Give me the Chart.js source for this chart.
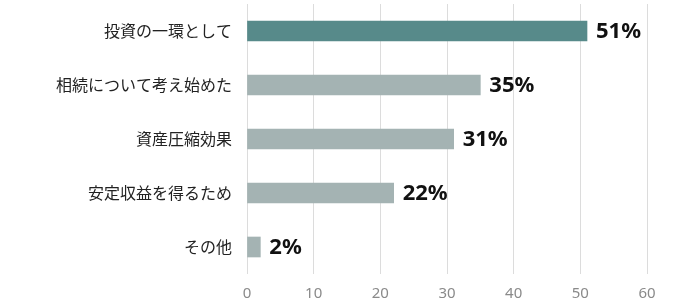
<!DOCTYPE html>
<html lang="ja">
<head>
<meta charset="utf-8">
<script src="https://cdn.jsdelivr.net/npm/chart.js@4/dist/chart.umd.min.js"></script>
<style>
  html, body { margin: 0; padding: 0; background: #fff; }
  #wrap { width: 700px; height: 300px; }
</style>
</head>
<body>
<div id="wrap"><canvas id="chart"></canvas></div>
<script>
const categories = ['投資の一環として', '相続について考え始めた', '資産圧縮効果', '安定収益を得るため', 'その他'];
const percents = [51, 35, 31, 22, 2];
const tickValues = [0, 10, 20, 30, 40, 50, 60];

const barColors = percents.map((v, i) => (i === 0 ? '#578a8a' : '#a4b3b3'));

// draws the "51%" style labels just right of each bar
const valueLabels = {
  id: 'valueLabels',
  afterDatasetsDraw(chart) {
    const ctx = chart.ctx;
    const meta = chart.getDatasetMeta(0);
    ctx.save();
    ctx.font = 'bold 22px "Noto Sans", "Noto Sans CJK JP", sans-serif';
    ctx.fillStyle = '#111';
    ctx.textAlign = 'left';
    ctx.textBaseline = 'middle';
    meta.data.forEach((bar, i) => {
      ctx.fillText(percents[i] + '%', bar.x + 9, bar.y + 1);
    });
    ctx.restore();
  }
};

new Chart(document.getElementById('chart'), {
  type: 'bar',
  data: {
    labels: categories,
    datasets: [{
      data: percents,
      backgroundColor: barColors,
      barThickness: 20,
      borderWidth: 0
    }]
  },
  options: {
    indexAxis: 'y',
    responsive: true,
    maintainAspectRatio: false,
    animation: false,
    layout: { padding: { left: 0, right: 53, top: 4, bottom: 0 } },
    plugins: {
      legend: { display: false },
      tooltip: { enabled: false }
    },
    scales: {
      x: {
        min: 0,
        max: 60,
        afterBuildTicks(scale) {
          scale.ticks = tickValues.map(v => ({ value: v }));
        },
        afterFit(scale) {
          scale.height = 26;
          scale.paddingTop = 0;
          scale.paddingBottom = 0;
        },
        grid: { color: '#dcdcdc', drawTicks: false },
        border: { display: false },
        ticks: {
          padding: 11,
          color: '#8a8a8a',
          font: { family: '"Noto Sans", sans-serif', size: 15 }
        }
      },
      y: {
        grid: { display: false, drawTicks: false },
        border: { display: false },
        afterFit(scale) {
          scale.width = 247;
          scale.paddingTop = 0;
          scale.paddingBottom = 0;
        },
        ticks: {
          padding: 15,
          color: '#222',
          font: { family: '"Noto Sans CJK JP", sans-serif', size: 16 }
        }
      }
    }
  },
  plugins: [valueLabels]
});
</script>
</body>
</html>
